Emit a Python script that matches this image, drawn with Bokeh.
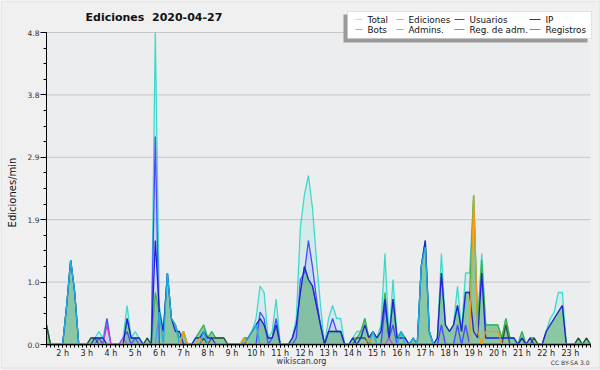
from bokeh.plotting import figure
from bokeh.models import Range1d, FixedTicker, BoxAnnotation, Label
from bokeh.embed import file_html
from bokeh.resources import INLINE

# ---------------- data (edits per minute, one value every 10 minutes from 1h20) ----------------
title_text = "Ediciones\u00a0\u00a02020-04-27"
y_label = "Ediciones/min"
site_text = "wikiscan.org"
licence_text = "CC BY-SA 3.0"

start_hour = 1 + 20 / 60
step_hours = 10 / 60

total = [0.3, 0, 0, 0, 0, 0.6, 1.3, 0.8, 0, 0,
         0, 0.1, 0.1, 0.2, 0.1, 0.4, 0, 0, 0, 0.1,
         0.6, 0.1, 0.2, 0.1, 0, 0.1, 0, 4.8, 0.6, 0.2,
         1.1, 0.4, 0.3, 0.1, 0.2, 0, 0, 0.1, 0.2, 0.3,
         0.1, 0.2, 0.1, 0.1, 0.1, 0, 0, 0, 0, 0.1,
         0.1, 0.2, 0.4, 0.9, 0.8, 0.1, 0.2, 0.7, 0, 0,
         0, 0.1, 0.4, 1.8, 2.3, 2.6, 2.1, 1.3, 0.6, 0,
         0.4, 0.6, 0.4, 0.4, 0, 0, 0.1, 0.2, 0.2, 0.4,
         0.1, 0.2, 0.1, 0.3, 1.4, 0.1, 1.0, 0.1, 0.2, 0.1,
         0, 0.1, 0, 1.2, 1.6, 0.2, 0, 0.1, 1.4, 0.3,
         0.2, 0.3, 0.9, 0.2, 1.1, 1.1, 2.3, 0.3, 1.4, 0.3,
         0.3, 0.3, 0.3, 0.1, 0.4, 0.1, 0.1, 0, 0.2, 0,
         0.1, 0.1, 0, 0, 0.2, 0.4, 0.5, 0.8, 0.8, 0,
         0, 0, 0.1, 0, 0.1, 0]

ediciones = [0.3, 0, 0, 0, 0, 0.6, 1.3, 0.8, 0, 0,
             0, 0.1, 0.1, 0.1, 0.1, 0, 0, 0, 0, 0,
             0.4, 0.1, 0.1, 0.1, 0, 0.1, 0, 0.8, 0.5, 0.2,
             1.1, 0.4, 0.3, 0.1, 0.2, 0, 0, 0.1, 0.2, 0.3,
             0.1, 0.2, 0.1, 0.1, 0.1, 0, 0, 0, 0, 0.1,
             0.1, 0.2, 0.3, 0.4, 0.3, 0.1, 0.1, 0.3, 0, 0,
             0, 0.1, 0.3, 0.8, 1.2, 1.0, 0.9, 0.6, 0.3, 0,
             0.2, 0.2, 0.2, 0.2, 0, 0, 0.1, 0.1, 0.2, 0.4,
             0.1, 0.2, 0.1, 0.2, 0.8, 0.1, 0.7, 0.1, 0.2, 0.1,
             0, 0.1, 0, 1.2, 1.6, 0.2, 0, 0.1, 1.1, 0.3,
             0.2, 0.3, 0.6, 0.2, 0.8, 0.8, 2.3, 0.3, 1.3, 0.3,
             0.3, 0.3, 0.3, 0.1, 0.4, 0.1, 0.1, 0, 0.2, 0,
             0.1, 0.1, 0, 0, 0.2, 0.3, 0.4, 0.5, 0.6, 0,
             0, 0, 0.1, 0, 0.1, 0]

usuarios = [0, 0, 0, 0, 0, 0.6, 1.3, 0.8, 0, 0,
            0, 0, 0.1, 0.1, 0.1, 0, 0, 0, 0, 0,
            0.4, 0.1, 0.1, 0.1, 0, 0, 0, 1.6, 0.5, 0.2,
            1.1, 0.4, 0.2, 0.2, 0, 0, 0, 0.1, 0.1, 0.2,
            0.1, 0.1, 0, 0, 0, 0, 0, 0, 0, 0,
            0.1, 0.2, 0.3, 0.4, 0.3, 0.1, 0.1, 0.3, 0, 0,
            0, 0.1, 0.3, 0.8, 1.2, 1.0, 0.9, 0.6, 0.3, 0,
            0.2, 0.2, 0.2, 0.2, 0, 0, 0.1, 0, 0.1, 0.3,
            0.1, 0.2, 0.1, 0.2, 0.7, 0.1, 0.7, 0.1, 0.1, 0.1,
            0, 0.1, 0, 1.2, 1.6, 0.2, 0, 0.1, 1.1, 0.3,
            0.2, 0.3, 0.6, 0.2, 0.8, 0.8, 0.2, 0.1, 1.1, 0.1,
            0.1, 0.1, 0.1, 0.1, 0.1, 0.1, 0.1, 0, 0.1, 0,
            0.1, 0, 0, 0, 0.2, 0.3, 0.4, 0.5, 0.6, 0,
            0, 0, 0, 0, 0, 0]

ip = [0.3, 0, 0, 0, 0, 0, 0, 0, 0, 0,
      0, 0.1, 0.1, 0, 0, 0, 0, 0, 0, 0,
      0, 0, 0, 0, 0, 0.1, 0, 0, 0, 0,
      0, 0, 0, 0, 0, 0, 0, 0, 0, 0.1,
      0, 0.1, 0.1, 0.1, 0.1, 0, 0, 0, 0, 0,
      0, 0, 0, 0, 0, 0, 0, 0, 0, 0,
      0, 0, 0, 0, 0, 0, 0, 0, 0, 0,
      0, 0, 0, 0, 0, 0, 0, 0.1, 0.1, 0.1,
      0, 0, 0, 0, 0, 0, 0, 0, 0, 0,
      0, 0, 0, 0, 0, 0, 0, 0, 0, 0,
      0, 0, 0, 0, 0, 0, 0, 0, 0, 0,
      0, 0, 0, 0, 0.3, 0, 0, 0, 0.1, 0,
      0, 0.1, 0, 0, 0, 0, 0, 0, 0, 0,
      0, 0, 0.1, 0, 0.1, 0]

bots = [0, 0, 0, 0, 0, 0, 0, 0, 0, 0,
        0, 0, 0, 0, 0, 0, 0, 0, 0, 0,
        0, 0, 0, 0, 0, 0, 0, 0, 0, 0,
        0, 0, 0, 0, 0.2, 0, 0, 0, 0.1, 0,
        0, 0, 0, 0, 0, 0, 0, 0, 0, 0.1,
        0, 0, 0, 0, 0, 0, 0, 0, 0, 0,
        0, 0, 0, 0, 0, 0, 0, 0, 0, 0,
        0, 0, 0, 0, 0, 0, 0, 0, 0, 0,
        0.1, 0, 0, 0, 0, 0, 0, 0, 0, 0,
        0, 0, 0, 0, 0, 0, 0, 0, 0, 0,
        0, 0, 0, 0, 0, 0, 2.3, 0.2, 0, 0.2,
        0.2, 0.2, 0.2, 0, 0, 0, 0, 0, 0, 0,
        0, 0, 0, 0, 0, 0, 0, 0, 0, 0,
        0, 0, 0, 0, 0, 0]

admins = [0, 0, 0, 0, 0, 0.6, 1.3, 0.8, 0, 0,
          0, 0, 0, 0, 0, 0, 0, 0, 0, 0,
          0, 0, 0, 0, 0, 0, 0, 0, 0.5, 0,
          1.1, 0.4, 0.3, 0, 0, 0, 0, 0, 0, 0.2,
          0, 0, 0, 0, 0, 0, 0, 0, 0, 0,
          0.1, 0.2, 0.3, 0, 0, 0, 0, 0, 0, 0,
          0, 0, 0, 0, 0, 0, 0, 0, 0, 0,
          0, 0, 0, 0, 0, 0, 0, 0, 0, 0,
          0, 0.2, 0, 0, 0, 0, 0, 0, 0.2, 0,
          0, 0.1, 0, 1.2, 1.5, 0.2, 0, 0, 0, 0,
          0, 0, 0, 0, 0, 0, 0, 0, 0, 0,
          0, 0, 0, 0, 0, 0, 0, 0, 0, 0,
          0, 0, 0, 0, 0, 0, 0, 0, 0, 0,
          0, 0, 0, 0, 0, 0]

reg_adm = [0, 0, 0, 0, 0, 0, 0, 0, 0, 0,
           0, 0, 0, 0, 0, 0.3, 0, 0, 0, 0.1,
           0, 0, 0, 0, 0, 0, 0, 0, 0, 0,
           0, 0, 0, 0, 0, 0, 0, 0, 0, 0,
           0, 0, 0, 0, 0, 0, 0, 0, 0, 0,
           0, 0, 0, 0, 0, 0, 0, 0, 0, 0,
           0, 0, 0, 0, 0, 0, 0, 0, 0, 0,
           0, 0, 0, 0, 0, 0, 0, 0, 0, 0,
           0, 0, 0, 0, 0, 0.1, 0, 0, 0, 0,
           0, 0, 0, 0, 0, 0, 0, 0, 0, 0,
           0, 0, 0, 0, 0, 0, 0, 0, 0, 0,
           0, 0, 0, 0, 0, 0, 0, 0, 0, 0,
           0, 0, 0, 0, 0, 0, 0, 0, 0, 0,
           0, 0, 0, 0, 0, 0]

registros = [0, 0, 0, 0, 0, 0, 0, 0, 0, 0,
             0, 0, 0, 0.1, 0, 0.4, 0, 0, 0, 0.1,
             0.2, 0, 0.1, 0, 0, 0, 0, 3.2, 0, 0,
             0, 0, 0, 0, 0, 0, 0, 0, 0, 0,
             0, 0, 0, 0, 0, 0, 0, 0, 0, 0,
             0, 0, 0, 0.5, 0.4, 0, 0.1, 0.4, 0, 0,
             0, 0, 0.1, 1.0, 1.1, 1.6, 1.2, 0.7, 0.3, 0,
             0.2, 0.4, 0.2, 0.2, 0, 0, 0, 0, 0, 0,
             0, 0, 0, 0, 0.6, 0.1, 0.3, 0, 0, 0,
             0, 0, 0, 0, 0, 0, 0, 0, 0.3, 0,
             0, 0, 0.3, 0, 0.3, 0, 0, 0, 0, 0,
             0, 0, 0, 0, 0, 0, 0, 0, 0, 0,
             0, 0, 0, 0, 0, 0, 0, 0, 0, 0,
             0, 0, 0, 0, 0, 0]

y_max = 4.8
y_ticks = [0, 0.96, 1.92, 2.88, 3.84, 4.8]
y_tick_labels = ["0.0", "1.0", "1.9", "2.9", "3.8", "4.8"]
hour_ticks = list(range(2, 24))
hour_labels = [f"{h} h" for h in hour_ticks]

legend_rows = [["Total", "Ediciones", "Usuarios", "IP"],
               ["Bots", "Admins.", "Reg. de adm.", "Registros"]]

# ---------------- layout (pixels) ----------------
W, H = 600, 370
plot_left, plot_right, plot_top, plot_bottom = 46, 590, 32, 344

# ---------------- styling ----------------
FONT = "DejaVu Sans"
col_total = "#3fd9cc"
col_ed = "#3db34a"
col_ed_fill = "#2e9e50"
col_usu = "#2020dc"
col_ip = "#2a2a2a"
col_bots = "#f39a12"
col_adm = "#1fb0e0"
col_regadm = "#d43cd4"
col_reg = "#4a4aff"

legend_colors = {"Total": "#9eeae6", "Ediciones": "#80d680", "Usuarios": "#3c3cf0", "IP": "#3a3a3a",
                 "Bots": "#ffa531", "Admins.": "#3ecfef", "Reg. de adm.": "#ee50ee", "Registros": "#7c7cff"}

n = len(total)
x = [start_hour + i * step_hours for i in range(n)]
x_start = x[0]
x_end = x[-1]

# ranges chosen so that the data area lands on the plot rectangle while the frame fills the canvas
kx = (plot_right - plot_left) / (x_end - x_start)
ky = (plot_bottom - plot_top) / y_max
x_range = Range1d(x_start - plot_left / kx, x_end + (W - plot_right) / kx)
y_range = Range1d(-(H - plot_bottom) / ky, y_max + plot_top / ky)

p = figure(width=W, height=H, output_backend="svg", toolbar_location=None,
           x_range=x_range, y_range=y_range)
p.min_border = 0
p.min_border_left = 0
p.min_border_right = 0
p.min_border_top = 0
p.min_border_bottom = 0
p.title.visible = False
p.background_fill_color = "#f0f0f0"
p.border_fill_color = "#f0f0f0"
p.outline_line_color = None
p.xgrid.visible = False
p.ygrid.visible = False

# plot area and grid lines
p.quad(left=[x_start], right=[x_end], bottom=[0], top=[y_max], fill_color="#ecedef", line_color=None)
p.segment(x0=[x_start] * len(y_ticks), x1=[x_end] * len(y_ticks), y0=y_ticks, y1=y_ticks,
          line_color="#c6c6c6", line_width=1)

zeros = [0] * n
# fills
p.varea(x=x, y1=zeros, y2=total, fill_color=col_total, fill_alpha=0.13)
p.varea(x=x, y1=zeros, y2=registros, fill_color=col_reg, fill_alpha=0.10)
p.varea(x=x, y1=zeros, y2=ediciones, fill_color=col_ed_fill, fill_alpha=0.45)

# lines
lw = 1.3
p.line(x, total, line_color=col_total, line_width=lw)
p.line(x, registros, line_color=col_reg, line_width=lw)
p.line(x, reg_adm, line_color=col_regadm, line_width=lw)
p.line(x, ediciones, line_color=col_ed, line_width=lw)
p.line(x, ip, line_color=col_ip, line_width=lw, line_alpha=0.75)
p.line(x, usuarios, line_color=col_usu, line_width=lw)
p.line(x, admins, line_color=col_adm, line_width=lw)
p.line(x, bots, line_color=col_bots, line_width=lw)

# axes, pinned to the corner of the data area
minor_x = [x_start + i * step_hours for i in range(n)]
p.xaxis.fixed_location = 0
p.xaxis.bounds = (x_start, x_end)
p.xaxis.ticker = FixedTicker(ticks=hour_ticks, minor_ticks=minor_x)
p.xaxis.major_label_overrides = dict(zip(hour_ticks, hour_labels))
p.xaxis.major_tick_out = 3
p.xaxis.major_tick_in = 0
p.xaxis.minor_tick_out = 3
p.xaxis.minor_tick_in = 0
p.xaxis.major_label_standoff = 1
p.xaxis.major_label_text_font = FONT
p.xaxis.major_label_text_font_size = "8px"
p.xaxis.major_label_text_color = "#222222"
p.xaxis.axis_line_color = "black"

minor_y = [i * 0.24 for i in range(21)]
p.yaxis.fixed_location = x_start
p.yaxis.bounds = (0, y_max)
p.yaxis.ticker = FixedTicker(ticks=y_ticks, minor_ticks=minor_y)
p.yaxis.major_label_overrides = dict(zip(y_ticks, y_tick_labels))
p.yaxis.major_tick_out = 6
p.yaxis.major_tick_in = 0
p.yaxis.minor_tick_out = 3
p.yaxis.minor_tick_in = 0
p.yaxis.major_label_standoff = 1
p.yaxis.major_label_text_font = FONT
p.yaxis.major_label_text_font_size = "7.5px"
p.yaxis.major_label_text_color = "#333333"
p.yaxis.axis_line_color = "black"


def sy(page_y):
    return H - page_y


def add_text(text, px, py, size, align="left", bold=False, angle=0.0, color="#111111"):
    p.add_layout(Label(x=px, y=sy(py), x_units="screen", y_units="screen", text=text, angle=angle,
                       text_font=FONT, text_font_size=size, text_font_style="bold" if bold else "normal",
                       text_align=align, text_baseline="middle", text_color=color))


def add_box(l, r, t, b, fill, line=None, fill_alpha=1.0):
    p.add_layout(BoxAnnotation(left=l, right=r, top=sy(t), bottom=sy(b),
                               left_units="screen", right_units="screen", top_units="screen",
                               bottom_units="screen", fill_color=fill, fill_alpha=fill_alpha,
                               line_color=line, line_width=1))


# outer frame of the picture
add_box(0.5, 599.5, 0.5, 367.5, "#f0f0f0", "#b8b8b8", fill_alpha=0.0)

add_text(title_text, 85, 17, "11px", bold=True)
add_text(y_label, 12, 192, "10px", align="center", angle=1.5708)
add_text(site_text, 301, 361, "8px", align="center", color="#333333")
add_text(licence_text, 589, 362, "6px", align="right", color="#333333")

# legend
add_box(343, 587, 14, 42, "#9a9a9a")
add_box(347, 591, 11, 38, "white", "#b4b4b4")
text_x = [367, 408, 469, 545]
swatch_x = [(355, 362), (396, 403), (454, 464), (529, 540)]
row_y = [19, 29]
for r, row in enumerate(legend_rows):
    for c, name in enumerate(row):
        add_box(swatch_x[c][0], swatch_x[c][1], row_y[r] - 0.5, row_y[r] + 0.5, legend_colors[name])
        add_text(name, text_x[c], row_y[r], "8.8px")

open("out.html", "w").write(file_html(p, INLINE))
